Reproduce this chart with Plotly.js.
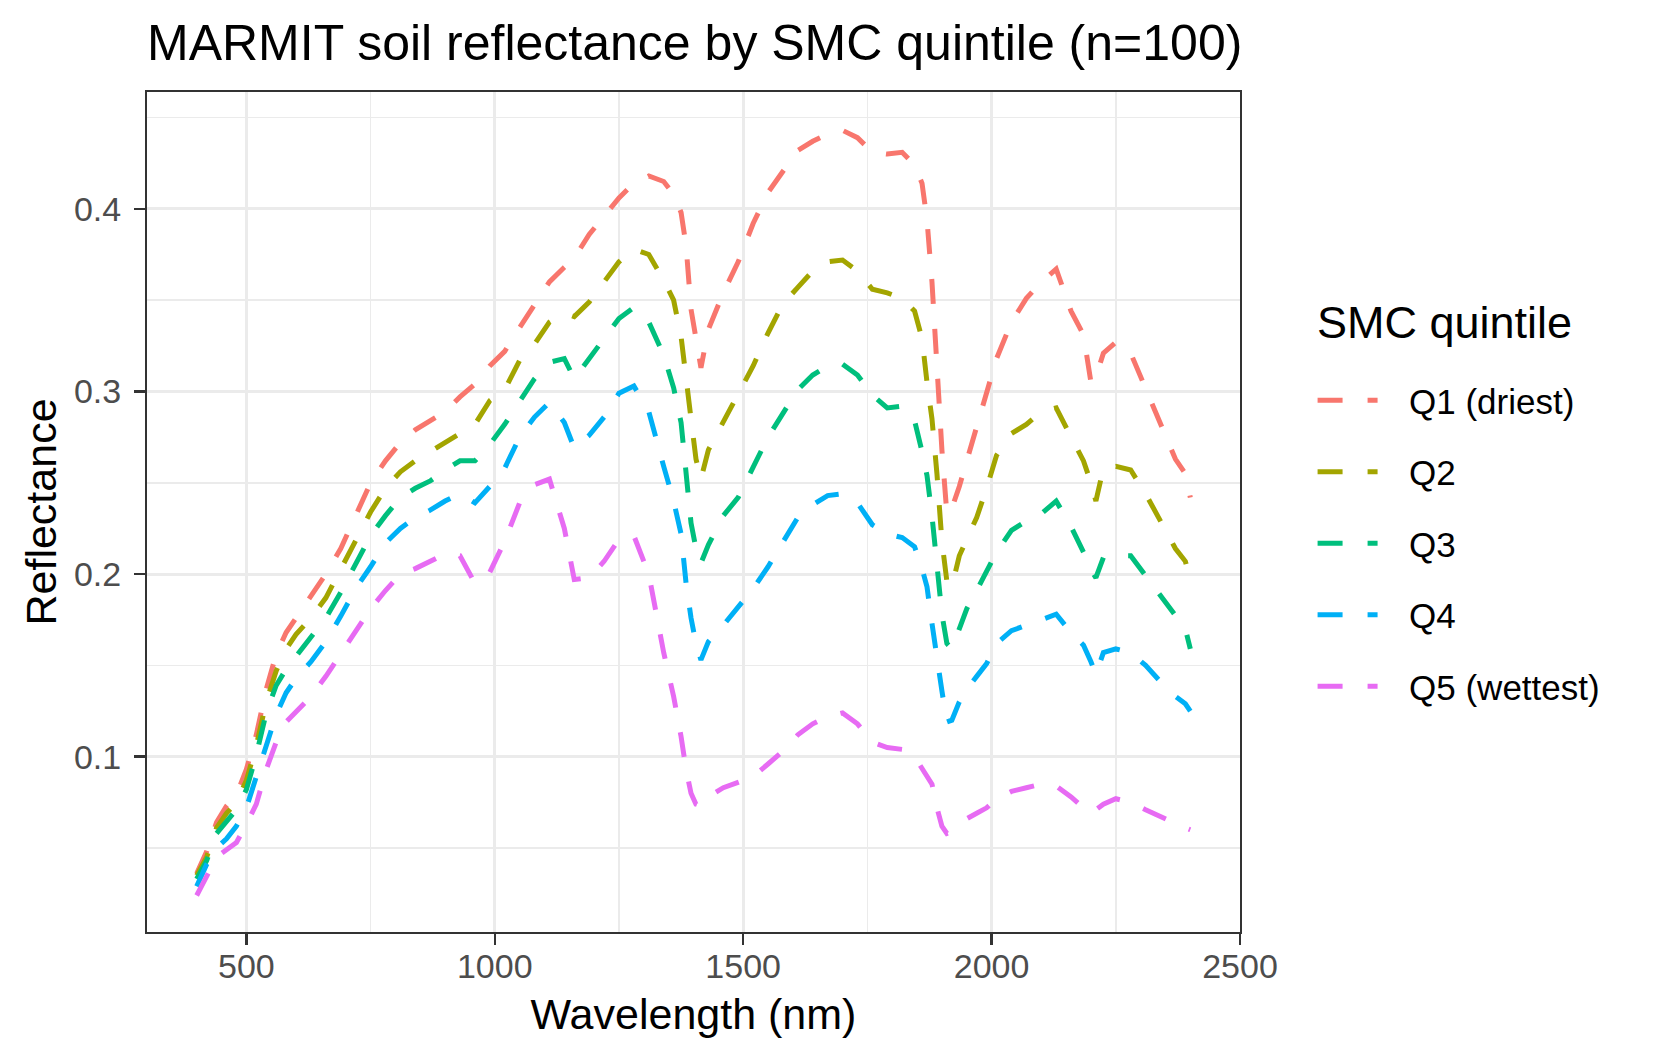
<!DOCTYPE html>
<html>
<head>
<meta charset="utf-8">
<script src="https://cdn.plot.ly/plotly-3.0.1.min.js"></script>
<style>
  html, body { margin: 0; padding: 0; background: #ffffff; }
  #chart { width: 1653px; height: 1062px; }
</style>
</head>
<body>
<div id="chart"></div>
<script>
// Wavelength grid (nm) shared by all quintile spectra
const wavelength = [
  400, 420, 440, 460, 480, 500, 520, 540, 560, 580,
  600, 630, 660, 690, 720, 750, 780, 810, 840, 870,
  900, 930, 960, 990, 1020, 1050, 1080, 1110, 1140, 1160,
  1190, 1220, 1250, 1280, 1310, 1340, 1360, 1375, 1385, 1395,
  1405, 1415, 1430, 1460, 1490, 1520, 1550, 1580, 1610, 1640,
  1670, 1700, 1730, 1760, 1790, 1820, 1845, 1860, 1870, 1880,
  1890, 1900, 1910, 1920, 1935, 1950, 1970, 1990, 2010, 2040,
  2070, 2100, 2130, 2160, 2185, 2200, 2210, 2225, 2250, 2280,
  2310, 2340, 2370, 2390, 2400
];

// Mean reflectance per SMC quintile
const q1 = [
  0.036, 0.048, 0.064, 0.073, 0.079, 0.093, 0.112, 0.137, 0.156, 0.168,
  0.176, 0.188, 0.200, 0.214, 0.232, 0.250, 0.262, 0.272, 0.279, 0.284,
  0.289, 0.297, 0.304, 0.314, 0.322, 0.335, 0.347, 0.360, 0.368, 0.373,
  0.386, 0.396, 0.406, 0.414, 0.418, 0.415, 0.408, 0.398, 0.380, 0.345,
  0.328, 0.313, 0.334, 0.354, 0.371, 0.392, 0.409, 0.421, 0.432, 0.437,
  0.441, 0.443, 0.439, 0.431, 0.430, 0.431, 0.424, 0.414, 0.394, 0.360,
  0.310, 0.268, 0.233, 0.236, 0.248, 0.262, 0.283, 0.301, 0.318, 0.338,
  0.351, 0.360, 0.367, 0.344, 0.331, 0.305, 0.308, 0.321, 0.327, 0.321,
  0.302, 0.282, 0.263, 0.255, 0.242
];
const q2 = [
  0.035, 0.045, 0.061, 0.069, 0.075, 0.087, 0.106, 0.130, 0.147, 0.159,
  0.167, 0.176, 0.187, 0.203, 0.219, 0.234, 0.247, 0.256, 0.262, 0.267,
  0.272, 0.277, 0.282, 0.295, 0.301, 0.317, 0.326, 0.338, 0.343, 0.341,
  0.349, 0.360, 0.371, 0.378, 0.375, 0.361, 0.350, 0.330, 0.310, 0.285,
  0.263, 0.252, 0.268, 0.283, 0.299, 0.314, 0.332, 0.348, 0.357, 0.366,
  0.371, 0.372, 0.366, 0.356, 0.354, 0.351, 0.344, 0.329, 0.305, 0.285,
  0.255, 0.218, 0.196, 0.193, 0.210, 0.219, 0.231, 0.247, 0.265, 0.277,
  0.282, 0.289, 0.291, 0.275, 0.262, 0.250, 0.240, 0.258, 0.259, 0.257,
  0.244, 0.229, 0.214, 0.207, 0.197
];
const q3 = [
  0.033, 0.043, 0.058, 0.064, 0.071, 0.082, 0.101, 0.124, 0.139, 0.148,
  0.155, 0.165, 0.176, 0.190, 0.205, 0.221, 0.232, 0.242, 0.247, 0.251,
  0.257, 0.262, 0.262, 0.271, 0.282, 0.294, 0.307, 0.316, 0.318, 0.307,
  0.318, 0.328, 0.340, 0.346, 0.338, 0.320, 0.302, 0.283, 0.255, 0.228,
  0.214, 0.206, 0.216, 0.232, 0.242, 0.258, 0.275, 0.288, 0.301, 0.309,
  0.314, 0.315, 0.309, 0.298, 0.291, 0.292, 0.284, 0.267, 0.254, 0.232,
  0.202, 0.178, 0.162, 0.159, 0.170, 0.181, 0.191, 0.202, 0.212, 0.224,
  0.229, 0.233, 0.240, 0.226, 0.212, 0.202, 0.198, 0.209, 0.210, 0.210,
  0.199, 0.188, 0.178, 0.170, 0.159
];
const q4 = [
  0.029, 0.041, 0.050, 0.055, 0.062, 0.072, 0.089, 0.106, 0.123, 0.135,
  0.143, 0.152, 0.163, 0.177, 0.192, 0.204, 0.217, 0.225, 0.231, 0.235,
  0.240, 0.244, 0.239, 0.248, 0.258, 0.275, 0.286, 0.294, 0.283, 0.269,
  0.276, 0.286, 0.299, 0.303, 0.289, 0.259, 0.240, 0.222, 0.195, 0.176,
  0.162, 0.153, 0.163, 0.172, 0.182, 0.192, 0.204, 0.218, 0.231, 0.238,
  0.243, 0.244, 0.239, 0.227, 0.222, 0.220, 0.215, 0.203, 0.193, 0.173,
  0.153, 0.136, 0.119, 0.120, 0.130, 0.137, 0.144, 0.151, 0.162, 0.169,
  0.172, 0.175, 0.178, 0.168, 0.161, 0.152, 0.145, 0.157, 0.159, 0.157,
  0.150, 0.141, 0.133, 0.129, 0.125
];
const q5 = [
  0.024, 0.035, 0.045, 0.049, 0.053, 0.063, 0.074, 0.093, 0.108, 0.119,
  0.125, 0.133, 0.144, 0.156, 0.168, 0.181, 0.191, 0.200, 0.203, 0.207,
  0.211, 0.210, 0.195, 0.201, 0.218, 0.239, 0.249, 0.252, 0.225, 0.197,
  0.198, 0.207, 0.219, 0.221, 0.200, 0.157, 0.133, 0.111, 0.093, 0.080,
  0.074, 0.073, 0.078, 0.083, 0.086, 0.089, 0.096, 0.103, 0.112, 0.118,
  0.122, 0.124, 0.118, 0.108, 0.105, 0.104, 0.100, 0.094, 0.090, 0.085,
  0.072, 0.062, 0.058, 0.059, 0.063, 0.066, 0.069, 0.072, 0.077, 0.081,
  0.083, 0.085, 0.084, 0.078, 0.072, 0.069, 0.071, 0.074, 0.077, 0.075,
  0.071, 0.067, 0.063, 0.061, 0.060
];

const seriesNames = ['Q1 (driest)', 'Q2', 'Q3', 'Q4', 'Q5 (wettest)'];
const seriesValues = [q1, q2, q3, q4, q5];
const seriesColors = ['#F8766D', '#A3A500', '#00BF7D', '#00B0F6', '#E76BF3'];
const legendTitle = 'SMC quintile';

const xTicks = [500, 1000, 1500, 2000, 2500];
const yTicks = [0.1, 0.2, 0.3, 0.4];

const FONT = 'Liberation Sans, Arial, Helvetica, sans-serif';
const GRID = '#EBEBEB';
const INK = '#333333';
const KEY_PAD = '\u00A0\u00A0\u2009'; // room between legend key and label

const traces = seriesValues.map((vals, i) => ({
  x: wavelength,
  y: vals,
  type: 'scatter',
  mode: 'lines',
  name: KEY_PAD + seriesNames[i],
  legendgroup: 'g' + i,
  line: { color: seriesColors[i], width: 5, dash: '25px,25px' },
  hoverinfo: 'skip'
}));

const axisCommon = {
  showline: true,
  linecolor: INK,
  linewidth: 2,
  mirror: true,
  ticks: 'outside',
  ticklen: 11,
  tickwidth: 2.5,
  tickcolor: INK,
  tickfont: { family: FONT, size: 34, color: '#4D4D4D' },
  showgrid: true,
  gridcolor: GRID,
  gridwidth: 3,
  zeroline: false
};

const layout = {
  width: 1653,
  height: 1062,
  paper_bgcolor: '#ffffff',
  plot_bgcolor: '#ffffff',
  margin: { l: 147, r: 413, t: 92, b: 130 },
  font: { family: FONT, color: '#000000' },
  title: {
    text: 'MARMIT soil reflectance by SMC quintile (n=100)',
    font: { family: FONT, size: 50, color: '#000000' },
    xref: 'paper', x: 0, xanchor: 'left',
    yref: 'container', y: 1 - 42 / 1062, yanchor: 'middle'
  },
  xaxis: Object.assign({}, axisCommon, {
    range: [300, 2500],
    tickvals: xTicks,
    ticktext: xTicks.map(String),
    ticklabelstandoff: -8,
    minor: { tickvals: [750, 1250, 1750, 2250], showgrid: true, gridcolor: GRID, gridwidth: 1.5, ticks: '' },
    title: { text: 'Wavelength (nm)', font: { family: FONT, size: 43, color: '#000000' }, standoff: 15 }
  }),
  yaxis: Object.assign({}, axisCommon, {
    range: [0.004, 0.464],
    tickvals: yTicks,
    ticktext: yTicks.map(v => v.toFixed(1)),
    ticklabelstandoff: 6,
    minor: { tickvals: [0.05, 0.15, 0.25, 0.35, 0.45], showgrid: true, gridcolor: GRID, gridwidth: 1.5, ticks: '' },
    title: { text: 'Reflectance', font: { family: FONT, size: 43, color: '#000000' }, standoff: 4 }
  }),
  showlegend: true,
  legend: {
    x: 1.0664, xanchor: 'left',
    y: 0.668, yanchor: 'top',
    bgcolor: 'rgba(0,0,0,0)',
    borderwidth: 0,
    font: { family: FONT, size: 35, color: '#000000' },
    tracegroupgap: 23,
    itemwidth: 60,
    traceorder: 'grouped'
  },
  annotations: [{
    text: legendTitle,
    xref: 'paper', yref: 'paper',
    x: 1.0686, xanchor: 'left',
    y: 0.726, yanchor: 'middle',
    showarrow: false,
    font: { family: FONT, size: 45, color: '#000000' }
  }]
};

Plotly.newPlot('chart', traces, layout, { displayModeBar: false, staticPlot: true });
</script>
</body>
</html>
